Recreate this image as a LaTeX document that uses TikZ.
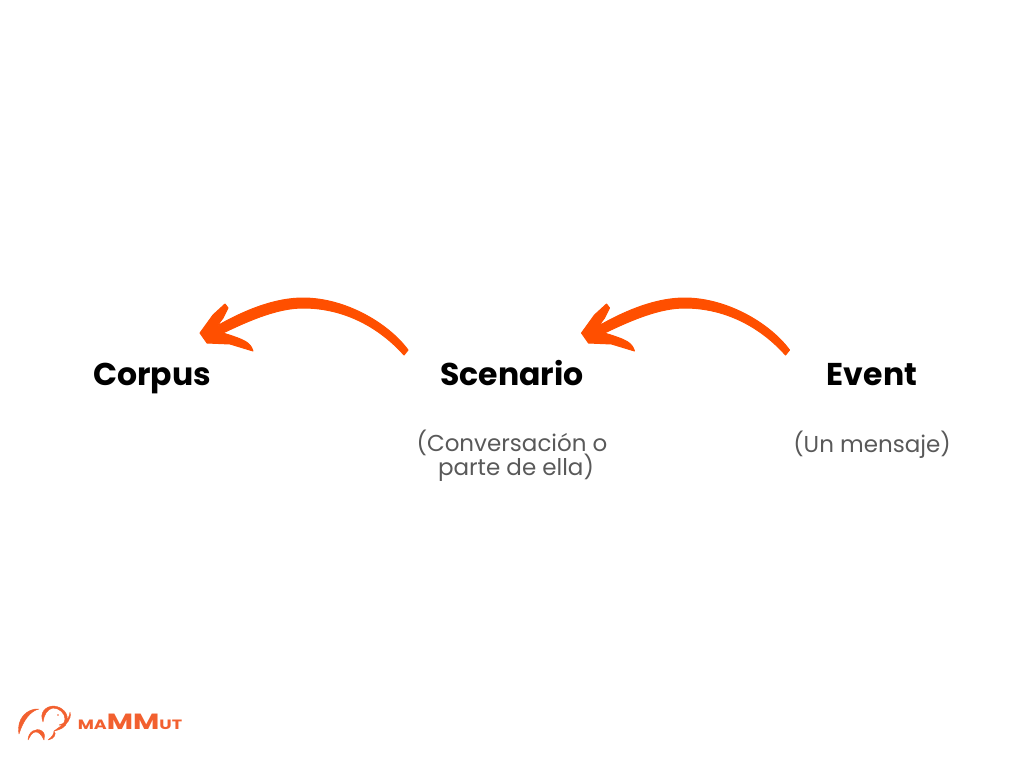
\documentclass[tikz,border=0pt]{standalone}
\usepackage{fontspec}
\setmainfont{Poppins}
\definecolor{arrowOrange}{HTML}{FF4F00}
\definecolor{logoOrange}{HTML}{F2602F}
\definecolor{noteGray}{HTML}{595959}
\begin{document}
\begin{tikzpicture}
[x=1pt,y=-1pt,
  titleDecorate/.style={font=\fontsize{31.5}{36}\selectfont\bfseries,text=black,inner sep=0pt,anchor=base},%
  noteDecorate/.style={font=\fontsize{23}{24}\selectfont,text=noteGray,inner sep=0pt,align=center},%
  arrowDecorate/.style={fill=arrowOrange,draw=arrowOrange,line width=1pt,line join=round},%
  logoDecorate/.style={fill=logoOrange,draw=logoOrange,line width=.4pt,line join=round}]
\useasboundingbox (0,0) rectangle (1024,768);
%% labels
\foreach \nodename/\x/\txt in {corpus/152/Corpus, scenario/512/Scenario, event/872/Event} {
  \node (\nodename) at (\x,385) [titleDecorate] {\txt};
}
\node (scenarionote) at (512,455.5) [noteDecorate] {(Conversación o\\[-3pt] \hspace*{8pt}parte de ella)};
\node (eventnote) at (872,444.5) [noteDecorate] {(Un mensaje)};
%% arrows
\foreach \startname/\endname/\x in {scenario/corpus/0, event/scenario/381.5} {
  \begin{scope}[xshift=\x pt]
  \coordinate (tail-\startname) at (408,350);
  \coordinate (tip-\endname) at (200,333);
  \path[arrowDecorate] (tail-\startname) .. controls (388,323) and (345,298) .. (303,298)
    .. controls (275,298) and (245,310) .. (217,326)
    -- (223,318) -- (228,308) -- (225,304) -- (213,315)
    -- (tip-\endname) -- (207,343) -- (230,344) -- (253,351)
    .. controls (250,342) and (245,340) .. (223,333)
    .. controls (250,320) and (278,308) .. (303,308)
    .. controls (345,308) and (380,328) .. (404,355) -- cycle;
  \end{scope}
}
%% logo
\node (logotext) at (130,729) [font=\fontsize{22}{24}\selectfont\bfseries,text=logoOrange,inner sep=0pt,anchor=base]
  {\scalebox{1.3}[1]{{\fontsize{13.5}{14}\selectfont MA}MM{\fontsize{13.5}{14}\selectfont UT}}};
%% elephant
\path[logoDecorate] (19,734) .. controls (16,719) and (27,708) .. (39,709)
  .. controls (30,711) and (23,721) .. (19,734);
\path[logoDecorate] (43,722) .. controls (39,712) and (46,706) .. (54,706)
  .. controls (63,707) and (69,714) .. (67,722) .. controls (66,727) and (60,730) .. (54,731)
  .. controls (59,727) and (65,725) .. (65,719) .. controls (65,713) and (59,708) .. (53,708)
  .. controls (47,709) and (44,715) .. (43,722);
\path[logoDecorate] (59,725) .. controls (64,724) and (69,720) .. (70,712)
  .. controls (72,719) and (66,727) .. (59,725);
\path[logoDecorate] (28,740) .. controls (28,732) and (36,727) .. (42,731)
  .. controls (45,733) and (45,737) .. (44,740) .. controls (42,735) and (38,731) .. (35,732)
  .. controls (31,733) and (30,737) .. (28,740);
\path[logoDecorate] (48,740) .. controls (52,737) and (54,734) .. (54,731)
  .. controls (57,734) and (54,739) .. (48,740);
\fill[logoOrange] (58,715) circle (.8);
\end{tikzpicture}
\end{document}
